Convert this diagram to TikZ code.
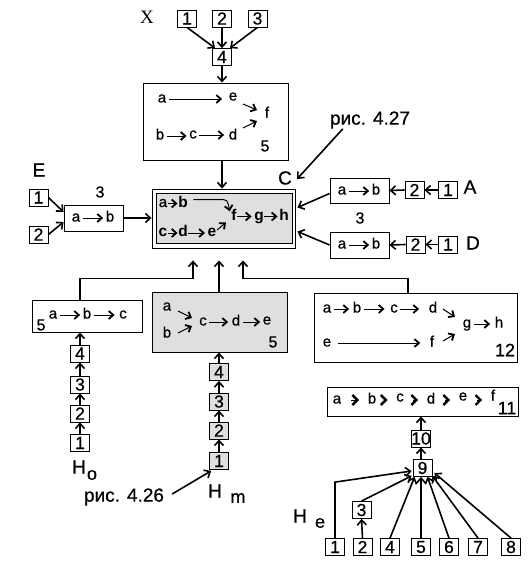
\documentclass[tikz,border=0pt]{standalone}
\usepackage{fontspec}
\setmainfont{Liberation Sans}[UprightFeatures={FakeBold=0.6}]
\newfontfamily\timesf{Liberation Serif}
\usetikzlibrary{arrows.meta,calc}
\tikzset{
  conn/.style={line width=1.6pt, -{Straight Barb[length=5pt,width=9pt,line width=1.6pt]}},
  ia/.style={line width=1pt, -{Straight Barb[length=4.5pt,width=8pt,line width=1.8pt]}},
  chev/.style={line width=1pt, -{Straight Barb[length=5pt,width=10pt,line width=2.4pt]}, shorten <=7pt, shorten >=6pt},
  numbox/.style={draw, line width=0.8pt, fill=white, inner sep=0pt, minimum width=19pt, minimum height=17pt, font=\fontsize{17.5}{17.5}\selectfont},
  gnumbox/.style={numbox, fill=gray!25},
  frame/.style={draw, line width=0.9pt, inner sep=0pt},
  ltr/.style={inner sep=2.5pt, text height=7pt, text depth=0pt, font=\fontsize{15}{15}\selectfont},
  bltr/.style={inner sep=0.5pt, text height=7pt, text depth=0pt, font=\fontsize{15.5}{15.5}\selectfont\bfseries},
  bigl/.style={inner sep=0pt, font=\fontsize{19}{19}\selectfont},
  subl/.style={inner sep=0pt, font=\fontsize{18}{18}\selectfont},
  smallnum/.style={inner sep=0pt, font=\fontsize{16}{16}\selectfont},
  rislbl/.style={inner sep=0pt, font=\fontsize{19}{19}\selectfont},
}
\begin{document}
\begin{tikzpicture}[x=1pt,y=-1pt]
\useasboundingbox (0,0) rectangle (530,568);

% ---------- top group X ----------
\node[inner sep=0pt, font=\fontsize{19}{19}\selectfont\timesf] (X) at (147,17) {X};
\node[numbox] (t1) at (187,18.5) {1};
\node[numbox] (t2) at (222,18.5) {2};
\node[numbox] (t3) at (257.5,18.5) {3};
\node[numbox] (t4) at (222,57) {4};
\draw[conn] (t1.south) -- ($(t4.north)+(-7,0)$);
\draw[conn] (t2.south) -- (t4.north);
\draw[conn] (t3.south) -- ($(t4.north)+(8,0)$);

\node[frame, minimum width=145pt, minimum height=77pt] (B5) at (215.5,121.5) {};
\draw[conn] (t4.south) -- (t4.south |- B5.north);
\node[ltr] (a1) at (162,99) {a};
\node[ltr] (e1) at (233,97) {e};
\node[ltr] (f1) at (267,114) {f};
\node[ltr] (b1) at (160,136) {b};
\node[ltr] (c1) at (193,135) {c};
\node[ltr] (d1) at (233,136) {d};
\node[smallnum] (n5a) at (265,146) {5};
\draw[ia] (a1.east) -- ($(a1.east -| e1.west)+(-4,0)$);
\draw[ia] ($(e1)+(10,7)$) -- ($(f1)+(-10,-4)$);
\draw[ia] (b1.east) -- (b1.east -| c1.west);
\draw[ia] (c1.east) -- ($(c1.east -| d1.west)+(-2,0)$);
\draw[ia] ($(d1)+(10,-8)$) -- ($(f1)+(-10,7)$);

% ---------- central box ----------
\node[frame, minimum width=143pt, minimum height=59pt] (CO) at (223.5,218.5) {};
\node[frame, fill=gray!25, minimum width=136pt, minimum height=50pt] (CI) at (224,218) {};
\draw[conn] (B5.south -| t4) -- (CO.north -| t4);
\node[ltr, inner sep=0.5pt] (a2) at (163,203.5) {a};
\node[bltr] (b2) at (183,203.5) {b};
\node[bltr] (f2) at (234,216.5) {f};
\node[bltr] (g2) at (259,216.5) {g};
\node[bltr] (h2) at (284,216.5) {h};
\node[bltr] (c2) at (163,233) {c};
\node[bltr] (d2) at (183,233) {d};
\node[bltr] (e2) at (212,233) {e};
\draw[ia] (a2.east) -- (b2.west);
\draw[ia] ($(b2.east)+(5,-4)$) -- ($(b2.east)+(30,-4)$) .. controls ($(b2.east)+(39,-4)$) .. ($(f2.north west)+(-1,-1)$);
\draw[ia] (f2.east) -- ($(f2.east -| g2.west)+(-2,0)$);
\draw[ia] (g2.east) -- ($(g2.east -| h2.west)+(-1,0)$);
\draw[ia] (c2.east) -- (c2.east -| d2.west);
\draw[ia] (d2.east) -- ($(d2.east -| e2.west)+(-2,0)$);
\draw[ia] ($(e2)+(5,-3)$) -- ($(f2)+(-8,6)$);

% ---------- left group E ----------
\node[bigl] (E) at (39,170) {E};
\node[numbox] (L1) at (38.5,197.5) {1};
\node[numbox] (L2) at (38.5,234.5) {2};
\node[frame, minimum width=59pt, minimum height=26pt] (LAB) at (93.5,218) {};
\node[smallnum] (n3a) at (100,192) {3};
\node[ltr] (la) at (76,218) {a};
\node[ltr] (lb) at (110,218) {b};
\draw[ia] (la.east) -- (lb.west);
\draw[conn] (L1.east) -- ($(LAB.west)+(0,-6)$);
\draw[conn] (L2.east) -- ($(LAB.west)+(0,4)$);
\draw[conn] (LAB.east) -- (LAB.east -| CO.west);

% ---------- right group A ----------
\node[rislbl] (r27) at (370,120) {рис. 4.27};
\node[bigl] (C) at (285,178) {C};
\draw[conn] ($(r27.south west)+(13,0)$) -- ($(C.east)+(5,1)$);
\node[frame, minimum width=59pt, minimum height=25pt] (RA) at (359.5,190.5) {};
\node[ltr] (ra) at (342,191) {a};
\node[ltr] (rb) at (376,191) {b};
\draw[ia] (ra.east) -- (rb.west);
\node[numbox] (RA2) at (414.5,190) {2};
\node[numbox] (RA1) at (448,190) {1};
\node[bigl] (A) at (470,187) {A};
\draw[conn] (RA1.west) -- (RA2.east);
\draw[conn] (RA2.west) -- (RA.east);
\draw[conn] ($(RA.west)+(0,3)$) -- ($(CO.east)+(2,-11)$);

% ---------- right group D ----------
\node[smallnum] (n3b) at (360,218) {3};
\node[frame, minimum width=59pt, minimum height=26pt] (RD) at (359.5,245) {};
\node[ltr] (da) at (342,245) {a};
\node[ltr] (db) at (376,245) {b};
\draw[ia] (da.east) -- (db.west);
\node[numbox] (RD2) at (415.5,244.5) {2};
\node[numbox] (RD1) at (448,244.5) {1};
\node[bigl] (D) at (473,243) {D};
\draw[conn] (RD1.west) -- (RD2.east);
\draw[conn] (RD2.west) -- (RD.east);
\draw[conn] (RD.west) -- ($(CO.east)+(2,13)$);

% ---------- arrow tips below central box ----------
\coordinate (u1) at ($(CO.south)+(-30.5,12)$);
\coordinate (u2) at ($(CO.south)+(-4.5,12)$);
\coordinate (u3) at ($(CO.south)+(19.5,12)$);

% ---------- left box Ho ----------
\node[frame, minimum width=110pt, minimum height=32pt] (LB) at (87,316) {};
\node[smallnum] (n5b) at (41,325) {5};
\node[ltr] (a3) at (53,315) {a};
\node[ltr] (b3) at (87,315) {b};
\node[ltr] (c3) at (123,315) {c};
\draw[ia] (a3.east) -- (b3.west);
\draw[ia] (b3.east) -- ($(c3.west)+(-2,0)$);
\node[numbox] (o4) at (80,353.5) {4};
\node[numbox] (o3) at (80,384.5) {3};
\node[numbox] (o2) at (80,413.5) {2};
\node[numbox] (o1) at (80,443) {1};
\draw[conn] (o1.north) -- (o2.south);
\draw[conn] (o2.north) -- (o3.south);
\draw[conn] (o3.north) -- (o4.south);
\draw[conn] (o4.north) -- (o4.north |- LB.south);
\node[bigl] (Ho) at (79,467) {H};
\node[subl] (Hosub) at (92,475) {o};
\draw[conn] (LB.north -| o4) |- ($(u1)+(0,18)$) -- (u1);

% ---------- middle gray box Hm ----------
\node[frame, fill=gray!25, minimum width=135pt, minimum height=60pt] (MB) at (219.5,322) {};
\node[ltr] (a4) at (167,307) {a};
\node[ltr] (b4) at (167,334) {b};
\node[ltr] (c4) at (203,322) {c};
\node[ltr] (d4) at (236,322) {d};
\node[ltr] (e4) at (267,321) {e};
\node[smallnum] (n5c) at (273,342) {5};
\draw[ia] ($(a4)+(11,4)$) -- ($(c4)+(-11,-4)$);
\draw[ia] ($(b4)+(11,-1)$) -- ($(c4)+(-11,4)$);
\draw[ia] (c4.east) -- ($(c4.east -| d4.west)+(-1,0)$);
\draw[ia] (d4.east) -- (d4.east -| e4.west);
\node[gnumbox] (m4) at (219,372) {4};
\node[gnumbox] (m3) at (219,401.5) {3};
\node[gnumbox] (m2) at (219,430.5) {2};
\node[gnumbox] (m1) at (219,461) {1};
\draw[conn] (m1.north) -- (m2.south);
\draw[conn] (m2.north) -- (m3.south);
\draw[conn] (m3.north) -- (m4.south);
\draw[conn] (m4.north) -- (m4.north |- MB.south);
\draw[conn] (MB.north -| m4) -- (u2);
\node[bigl] (Hm) at (215,491) {H};
\node[subl] (Hmsub) at (238,498) {m};
\node[rislbl] (r26) at (124,497) {рис. 4.26};
\draw[conn] ($(r26.east)+(8,-3)$) -- ($(m1.south west)+(2,1)$);

% ---------- right box 12 ----------
\node[frame, minimum width=203pt, minimum height=69pt] (B12) at (415.5,327.5) {};
\node[ltr] (a5) at (327,309) {a};
\node[ltr] (b5) at (357,309) {b};
\node[ltr] (c5) at (394,309) {c};
\node[ltr] (d5) at (433,309) {d};
\node[ltr] (g5) at (467,324) {g};
\node[ltr] (h5) at (499,324) {h};
\node[ltr] (e5) at (327,343) {e};
\node[ltr] (f5) at (432,343) {f};
\node[subl] (n12) at (505,350) {12};
\draw[ia] (a5.east) -- ($(b5.west)+(-1,0)$);
\draw[ia] (b5.east) -- ($(c5.west)+(-3,0)$);
\draw[ia] (c5.east) -- ($(c5.east -| d5.west)+(-7,0)$);
\draw[ia] ($(d5)+(10,0)$) -- ($(g5)+(-12,-7)$);
\draw[ia] (g5.east) -- ($(g5.east -| h5.west)+(-2,0)$);
\draw[ia] ($(e5.east)+(4,0)$) -- ($(e5.east -| f5.west)+(-7,0)$);
\draw[ia] ($(f5)+(11,-2)$) -- ($(g5)+(-12,10)$);
\draw[conn] ($(B12.north)+(-7.5,0)$) |- ($(u3)+(0,18)$) -- (u3);

% ---------- box 11 ----------
\node[frame, minimum width=191pt, minimum height=29pt] (B11) at (422.5,401.5) {};
\node[ltr] (a6) at (337,400) {a};
\node[ltr] (b6) at (372,400) {b};
\node[ltr] (c6) at (400,398) {c};
\node[ltr] (d6) at (431,400) {d};
\node[ltr] (e6) at (463,397) {e};
\node[ltr] (f6) at (493,397) {f};
\node[subl] (n11) at (507,408) {11};
\draw[chev] (a6.east) -- (a6.east -| b6.west);
\draw[chev] (b6.east) -- (b6.east -| c6.west);
\draw[chev] (c6.east |- a6.east) -- (a6.east -| d6.west);
\draw[chev] (d6.east) -- (d6.east -| e6.west);
\draw[chev] (e6.east |- a6.east) -- (a6.east -| f6.west);

% ---------- He group ----------
\node[numbox] (c10) at (421,438.5) {10};
\node[numbox] (c9) at (422.5,468) {9};
\draw[conn] (c10.north) -- (c10.north |- B11.south);
\draw[conn] (c9.north -| c10) -- (c10.south);
\node[numbox] (e3) at (361.5,510) {3};
\node[numbox] (h1) at (335,547) {1};
\node[numbox] (h2) at (362.5,547) {2};
\node[numbox] (h4) at (390,547) {4};
\node[numbox] (h5) at (421,547) {5};
\node[numbox] (h6) at (449,547) {6};
\node[numbox] (h7) at (478,547) {7};
\node[numbox] (h8) at (511,547) {8};
\node[bigl] (He) at (300,516) {H};
\node[subl] (Hesub) at (320,523) {e};
\draw[conn] (h2.north) -- (e3.south);
\draw[conn] (h1.north) -- ($(h1.north)+(0,-56)$) -- ($(c9.west)+(-1,3)$);
\draw[conn] (e3.north) -- ($(c9.south west)+(-1,-1)$);
\draw[conn] (h4.north) -- ($(c9.south west)+(2,0)$);
\draw[conn] (h5.north) -- (h5.north |- c9.south);
\draw[conn] (h6.north) -- ($(c9.south)+(5,0)$);
\draw[conn] (h7.north) -- ($(c9.south east)+(0,-1)$);
\draw[conn] (h8.north) -- ($(c9.south east)+(2,-4)$);
\end{tikzpicture}
\end{document}
